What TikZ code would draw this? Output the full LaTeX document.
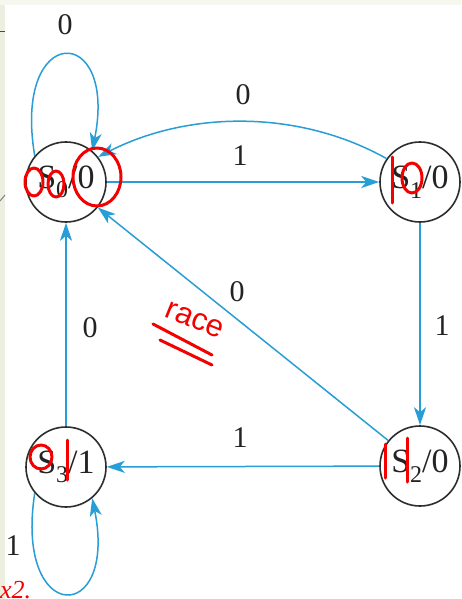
\documentclass[tikz,border=0pt]{standalone}
\usepackage{fontspec}
\setmainfont{Liberation Serif}
\newfontfamily\handfont{Liberation Sans}
\usetikzlibrary{arrows.meta}
\definecolor{edgeblue}{RGB}{40,158,214}
\definecolor{circgray}{RGB}{45,45,45}
\definecolor{txtgray}{RGB}{35,35,35}
\definecolor{beigebg}{RGB}{236,239,224}
\definecolor{annred}{RGB}{245,0,0}
\newcommand{\stlabel}[2]{S\raisebox{-0.28em}{\fontsize{24}{24}\selectfont #1}/#2}
\begin{document}
\begin{tikzpicture}[x=1pt,y=-1pt,
  state/.style={circle,draw=circgray,line width=1.6pt,minimum size=80pt,inner sep=0pt,text=txtgray,font=\fontsize{34}{34}\selectfont},
  edge/.style={draw=edgeblue,line width=1.5pt,-{Stealth[length=18pt,width=12pt,inset=5pt]}},
  lbl/.style={text=txtgray,font=\fontsize{30}{30}\selectfont,inner sep=0pt},
  ann/.style={draw=annred,line width=3pt,line cap=round,line join=round}]

\useasboundingbox (0,0) rectangle (461,599);
\fill[white] (0,0) rectangle (461,599);
\fill[beigebg] (0,0) rectangle (5,599);
\fill[beigebg!50] (0,0) rectangle (461,5);

% states
\node[state] (s0) at (66,182) {\stlabel{0}{0}};
\node[state] (s1) at (420,182) {\stlabel{1}{0}};
\node[state] (s2) at (420,466) {\stlabel{2}{0}};
\node[state] (s3) at (66,467) {\stlabel{3}{1}};

% edges
\draw[edge] (s0.140) .. controls (12,22) and (118,22) .. (s0.50);
\draw[edge] (s0) -- (s1);
\draw[edge] (s1.145) .. controls (300,110) and (190,110) .. (s0.38);
\draw[edge] (s1) -- (s2);
\draw[edge] (s2) -- (s0);
\draw[edge] (s2) -- (s3);
\draw[edge] (s3) -- (s0);
\draw[edge] (s3.220) .. controls (14,626) and (118,626) .. (s3.-50);

% labels
\node[lbl] (l00) at (65,25) {0};
\node[lbl] (l10) at (243,95) {0};
\node[lbl] (l01) at (240,156) {1};
\node[lbl] (l12) at (442,326) {1};
\node[lbl] (l20) at (237,292) {0};
\node[lbl] (l30) at (90,328) {0};
\node[lbl] (l23) at (240,438) {1};
\node[lbl] (l33) at (13,546) {1};

% handwritten annotations
\draw[ann] (34,182) ellipse [x radius=9, y radius=14];
\draw[ann] (56,184) ellipse [x radius=8, y radius=13];
\draw[ann] (97,177) ellipse [x radius=24, y radius=29];
\draw[ann] (392,157) -- (392,203);
\draw[ann] (412,178) ellipse [x radius=10, y radius=15];
\draw[ann] (385,444) -- (385,478);
\draw[ann] (407,438) -- (407,482);
\draw[ann] (41,457) ellipse [x radius=11, y radius=12];
\draw[ann] (67,440) -- (67,480);
\node[text=annred,rotate=-22,font=\handfont\fontsize{31}{31}\selectfont,inner sep=0pt] (race) at (195,320) {race};
\draw[ann] (153,324) -- (212,355);
\draw[ann] (160,340) -- (212,365);
\draw[annred,line width=1pt] (0,32) -- (5,32);
\draw[gray,line width=1pt] (0,201) -- (5,195);
\node[text=annred,font=\itshape\fontsize{26}{26}\selectfont,inner sep=0pt,anchor=west] (x2) at (0,590) {x2.};
\end{tikzpicture}
\end{document}
